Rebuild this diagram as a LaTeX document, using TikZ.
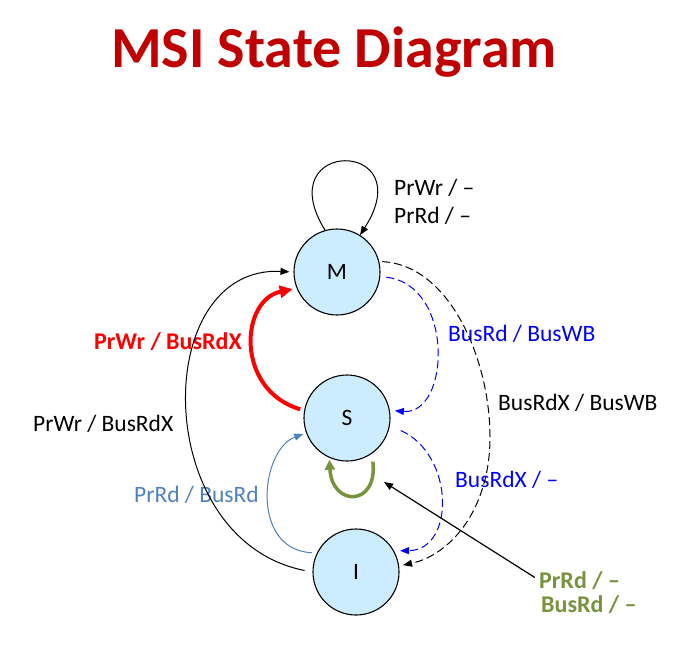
\documentclass[tikz,border=0pt]{standalone}
\usepackage{fontspec}
\setmainfont{Carlito}
\usetikzlibrary{arrows.meta}
\definecolor{titlered}{RGB}{192,0,0}
\definecolor{statefill}{RGB}{204,236,255}
\definecolor{steel}{RGB}{79,129,189}
\definecolor{olivegreen}{RGB}{119,147,60}
\definecolor{pureblue}{RGB}{0,0,255}
\definecolor{purered}{RGB}{255,0,0}
\begin{document}
\begin{tikzpicture}[x=1pt,y=-1pt,
  state/.style={circle,draw=black,line width=1.1pt,fill=statefill,minimum size=86pt,inner sep=0pt,font=\fontsize{23.5}{28}\selectfont},
  lbl/.style={anchor=base west,inner sep=0pt,font=\fontsize{23.5}{28}\selectfont},
  boldlbl/.style={lbl,font=\fontsize{24}{28}\selectfont\bfseries},
  conn/.style={line width=1pt,-{Triangle[length=9pt,width=7pt]}},
  dashconn/.style={conn,dash pattern=on 8pt off 4pt},
  boldconn/.style={-{Triangle[length=13pt,width=12pt]}},
]
\useasboundingbox (0,0) rectangle (684,656);

\node[anchor=base,inner sep=0pt,text=titlered,font=\fontsize{58}{60}\selectfont\bfseries] (title) at (334,67) {MSI State Diagram};

\node[state] (M) at (337,272) {M};
\node[state] (S) at (347,418) {S};
\node[state] (I) at (356,572) {I};

% labels
\node[lbl] (l1) at (394,195) {PrWr / –};
\node[lbl] (l2) at (394,223) {PrRd / –};
\node[boldlbl,text=purered] (l3) at (94,349) {PrWr / BusRdX};
\node[lbl] (l4) at (33,431) {PrWr / BusRdX};
\node[lbl,text=steel] (l5) at (134,502) {PrRd / BusRd};
\node[lbl,text=pureblue] (l6) at (448,341) {BusRd / BusWB};
\node[lbl] (l7) at (498,410) {BusRdX / BusWB};
\node[lbl,text=pureblue] (l8) at (455,487) {BusRdX / –};
\node[boldlbl,text=olivegreen] (l9) at (539,588) {PrRd / –};
\node[boldlbl,text=olivegreen] (l10) at (541,612) {BusRd / –};

% self loop on M
\draw[conn] (M.106) .. controls (268,138) and (422,138) .. (M.58);

% I -> M (PrWr / BusRdX)
\draw[conn,shorten <=8pt,shorten >=4pt] (I.180) .. controls (150,540) and (150,265) .. (M.180);

% S -> M red
\draw[purered,line width=4pt,boldconn,shorten <=4pt,shorten >=4pt] (S.170) .. controls (235,390) and (240,300) .. (M.202);

% I -> S steel blue
\draw[steel,conn,shorten <=5pt,shorten >=3pt] (I.154) .. controls (250,550) and (260,450) .. (S.200);

% M -> S blue dashed
\draw[pureblue,dashconn,shorten <=6pt,shorten >=5pt] (M.-6) .. controls (455,285) and (450,415) .. (S.10);

% S -> I blue dashed
\draw[pureblue,dashconn,shorten <=12pt,shorten >=6pt] (S.-10) .. controls (455,455) and (455,550) .. (I.29);

% M -> I black dashed
\draw[dashconn,shorten <=3pt,shorten >=4pt] (M.14) .. controls (450,265) and (490,360) .. (490,437) .. controls (490,510) and (450,555) .. (I.8);

% S self loop green
\draw[olivegreen,line width=3.5pt,-{Triangle[length=10pt,width=10pt]},shorten <=8pt,shorten >=2pt] (S.-55) .. controls (378,507) and (332,507) .. (S.-114);

% pointer from label
\coordinate (ptr) at (384,482);
\draw[conn,line width=1.2pt,shorten <=5pt] (l9.west) -- (ptr);
\end{tikzpicture}
\end{document}
